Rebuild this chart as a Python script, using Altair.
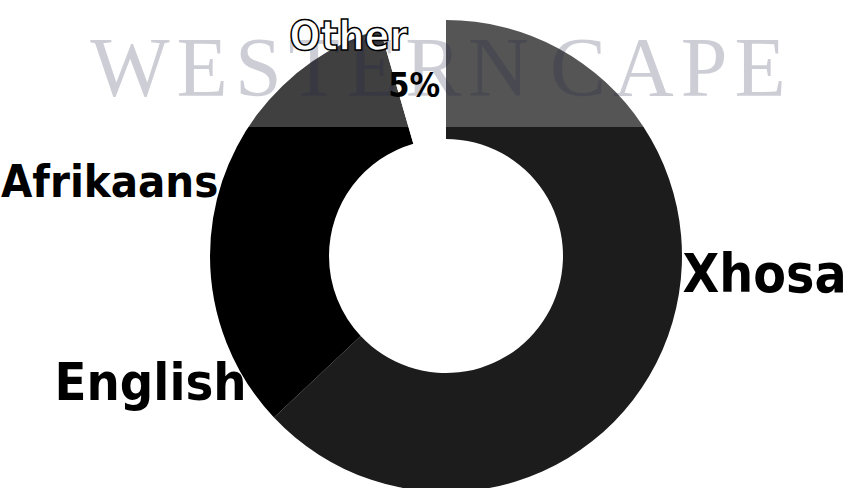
import math
import altair as alt
import pandas as pd

# ---- data ----
languages = ["Xhosa", "English", "Afrikaans", "Other"]
shares = [63.0, 12.0, 20.5, 4.5]
pct_labels = ["63%", "12%", "21%", "5%"]
fills = ["#1c1c1c", "#000000", "#000000", "#ffffff"]
watermark_text = ["W\u200aE\u200aS\u200aT\u200aE\u200aR\u200aN C\u200aA\u200aP\u200aE"]

df = pd.DataFrame({
    "language": languages,
    "share": shares,
    "pct": pct_labels,
    "order": list(range(len(languages))),
})

PAD_L, PAD_T = 42, 24
W, H = 808, 464
R_OUT, R_IN = 236, 117
BAND_BOTTOM = 127

LABEL_FONT = "'Liberation Sans Narrow', 'DejaVu Sans Condensed', 'Roboto Condensed', 'Liberation Sans', sans-serif"

theta_scale = alt.Scale(domain=[0, 100], range=[0, 2 * math.pi])

base = alt.Chart(df).transform_window(
    cum="sum(share)", sort=[alt.SortField("order")], frame=[None, 0]
).transform_calculate(mid="datum.cum - datum.share / 2")

arcs = base.mark_arc(innerRadius=R_IN, outerRadius=R_OUT).encode(
    theta=alt.Theta("share:Q", stack=True, scale=theta_scale),
    color=alt.Color("language:N", scale=alt.Scale(domain=languages, range=fills), legend=None),
    order=alt.Order("order:Q"),
)

one = alt.Chart(pd.DataFrame({"wm": watermark_text}))

band = one.mark_rect(fill="white", opacity=0.25).encode(
    x=alt.value(-PAD_L), x2=alt.value(W), y=alt.value(-PAD_T), y2=alt.value(BAND_BOTTOM - PAD_T)
)

watermark = one.mark_text(
    font="'Liberation Serif', 'DejaVu Serif', serif", fontSize=84, fill="#20204a",
    opacity=0.22, align="center", baseline="alphabetic",
).encode(x=alt.value(438 - PAD_L), y=alt.value(96 - PAD_T), text="wm:N")


def label(lang, field, **kw):
    return base.transform_filter(alt.datum.language == lang).mark_text(
        font=LABEL_FONT, fontWeight="bold", baseline="alphabetic", **kw
    ).encode(theta=alt.Theta("mid:Q", scale=theta_scale), text=alt.Text(f"{field}:N"))


lab_x = label("Xhosa", "language", radius=R_OUT, dx=20, dy=-58, align="left", fontSize=53, fill="black")
lab_e = label("English", "language", radius=R_OUT, dx=20, dy=57, align="right", fontSize=52, fill="black")
lab_a = label("Afrikaans", "language", radius=R_OUT, dx=-39, dy=83, align="right", fontSize=45, fill="black")
lab_o = label("Other", "language", radius=R_OUT, dx=-5, dy=28, align="right", fontSize=41,
              fill="white", stroke="black", strokeWidth=1.5)
lab_p = label("Other", "pct", radius=190, dx=21, dy=29, align="right", fontSize=34, fill="black")

chart = alt.layer(arcs, band, watermark, lab_x, lab_e, lab_a, lab_o, lab_p).properties(
    width=W, height=H,
    padding={"left": PAD_L, "top": PAD_T, "right": 0, "bottom": 0},
    autosize=alt.AutoSizeParams(type="none"),
    background="white",
).configure_view(stroke=None)

chart.save("out.html", embed_options={"renderer": "svg", "actions": False})
